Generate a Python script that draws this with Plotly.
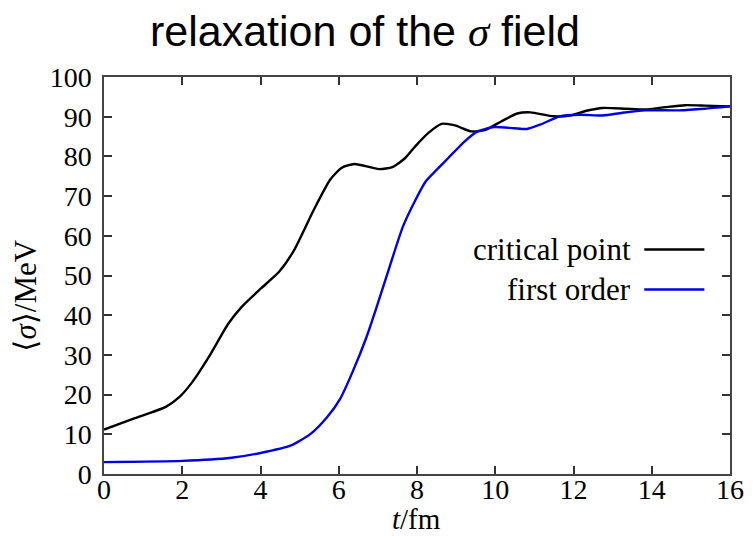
import plotly.graph_objects as go

# Data
t_crit = [0, 0.74, 1.58, 1.93, 2.26, 2.68, 3.18, 3.52, 4.02, 4.48, 4.86, 5.36, 5.78, 6.07, 6.4,
          7.03, 7.37, 7.7, 7.96, 8.3, 8.63, 8.97, 9.39, 9.73, 10.15, 10.56, 10.9, 11.49, 11.91,
          12.33, 12.75, 13.34, 13.84, 14.35, 14.85, 15.35, 16.0]
v_crit = [11.2, 13.9, 16.9, 19.4, 23.2, 29.5, 37.9, 42.1, 46.8, 51.0, 56.4, 66.5, 74.1, 77.1, 78.1,
          76.8, 77.3, 79.6, 82.6, 86.0, 88.2, 87.8, 86.3, 86.6, 88.8, 90.8, 91.1, 90.1, 90.3,
          91.5, 92.2, 92.0, 91.8, 92.4, 92.9, 92.8, 92.6]

t_first = [0, 2.0, 3.26, 4.0, 4.78, 5.28, 5.7, 6.04, 6.37, 6.71, 6.97, 7.3, 7.64, 7.98, 8.23,
           8.5, 8.8, 9.22, 9.55, 9.97, 10.48, 10.81, 11.15, 11.65, 12.16, 12.75, 13.25, 13.84,
           14.69, 15.35, 16.0]
v_first = [3.0, 3.3, 4.1, 5.3, 7.2, 10.1, 14.3, 19.0, 26.1, 34.5, 42.1, 52.2, 62.3, 69.4, 73.8,
           76.6, 79.6, 83.8, 86.3, 87.4, 87.1, 86.9, 88.0, 90.1, 90.5, 90.3, 91.0, 91.6,
           91.6, 92.0, 92.6]

series_names = ["critical point", "first order"]
series_colors = ["#000000", "#0000e6"]

x_ticks = [0, 2, 4, 6, 8, 10, 12, 14, 16]
y_ticks = [0, 10, 20, 30, 40, 50, 60, 70, 80, 90, 100]

SERIF = "Liberation Serif, DejaVu Serif, serif"

fig = go.Figure()
fig.add_trace(go.Scatter(x=t_crit, y=v_crit, mode="lines", name=series_names[0],
                         line=dict(color=series_colors[0], width=2.4, shape="spline", smoothing=0.6)))
fig.add_trace(go.Scatter(x=t_first, y=v_first, mode="lines", name=series_names[1],
                         line=dict(color=series_colors[1], width=2.4, shape="spline", smoothing=0.6)))

axis_common = dict(showline=True, linecolor="#444444", linewidth=1.5, mirror="ticks",
                   ticks="inside", ticklen=8, tickwidth=1.5, tickcolor="#333333",
                   showgrid=False, zeroline=False,
                   tickfont=dict(family=SERIF, size=28, color="#000000"))

fig.update_layout(
    width=756, height=536,
    margin=dict(l=104, r=17, t=77, b=62),
    paper_bgcolor="white", plot_bgcolor="white",
    showlegend=False,
    title=dict(text='relaxation of the <span style="font-family:Liberation Serif"><i>σ</i></span> field',
               x=365 / 756, xanchor="center",
               y=1 - 31 / 536, yanchor="middle",
               font=dict(family="Liberation Sans, Arial, sans-serif", size=43, color="#000000")),
    xaxis=dict(range=[0, 16], tickvals=x_ticks, ticktext=[str(v) for v in x_ticks],
               ticklabelstandoff=-10, **axis_common),
    yaxis=dict(range=[0, 100], tickvals=y_ticks, ticktext=[str(v) for v in y_ticks],
               ticklabelstandoff=5, **axis_common),
)

# axis titles
fig.add_annotation(text="<i>t</i>/fm", xref="paper", yref="paper", x=(421 - 104) / 635, y=-(519 - 474) / 397,
                   yanchor="middle", xanchor="center", showarrow=False, borderpad=0,
                   font=dict(family=SERIF, size=29, color="#000000"))
fig.add_annotation(text="⟨<i>σ</i>⟩/MeV", xref="paper", yref="paper", x=-(104 - 24) / 635, y=(473.5 - 295) / 397,
                   xanchor="center", yanchor="middle", textangle=-90, showarrow=False,
                   font=dict(family=SERIF, size=31, color="#000000"))

# legend (text right-aligned, sample line to the right)
leg_y = [249, 289]
for name, col, yy in zip(series_names, series_colors, leg_y):
    yp = (473.5 - yy) / 397
    fig.add_annotation(text=name, xref="paper", yref="paper", x=(641 - 104) / 635, y=yp,
                       xanchor="right", yanchor="middle", showarrow=False,
                       font=dict(family=SERIF, size=31, color="#000000"))
    fig.add_shape(type="line", xref="paper", yref="paper",
                  x0=(652 - 104) / 635, x1=(713 - 104) / 635, y0=yp, y1=yp,
                  line=dict(color=col, width=2.4))

fig.write_html("out.html")
